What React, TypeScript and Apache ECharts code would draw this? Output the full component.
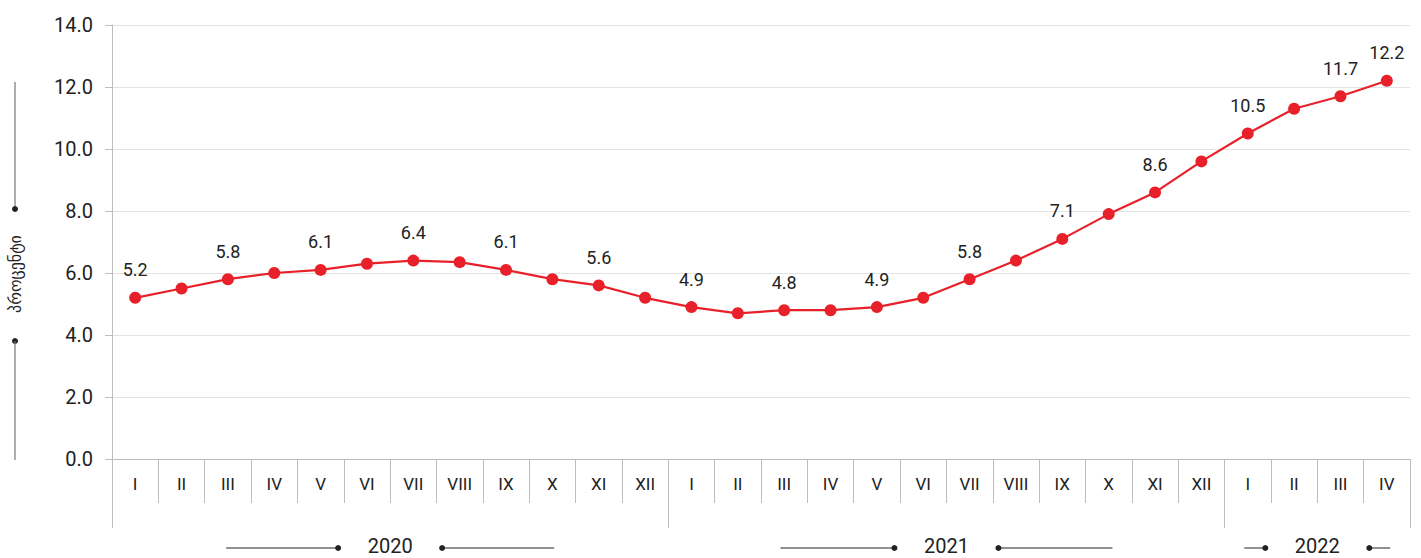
import React, { useEffect, useRef } from "react";
import * as echarts from "echarts";

const months2020 = ["I", "II", "III", "IV", "V", "VI", "VII", "VIII", "IX", "X", "XI", "XII"];
const months2021 = ["I", "II", "III", "IV", "V", "VI", "VII", "VIII", "IX", "X", "XI", "XII"];
const months2022 = ["I", "II", "III", "IV"];

const values2020 = [5.2, 5.5, 5.8, 6.0, 6.1, 6.3, 6.4, 6.35, 6.1, 5.8, 5.6, 5.2];
const values2021 = [4.9, 4.7, 4.8, 4.8, 4.9, 5.2, 5.8, 6.4, 7.1, 7.9, 8.6, 9.6];
const values2022 = [10.5, 11.3, 11.7, 12.2];

const years = ["2020", "2021", "2022"];
const yearMonths = [months2020, months2021, months2022];

const yTicks = [0, 2, 4, 6, 8, 10, 12, 14];
const yTitle = "პროცენტი";

const categories = [...months2020, ...months2021, ...months2022];
const values = [...values2020, ...values2021, ...values2022];

const FONT = "Roboto, 'Noto Sans', sans-serif";
const RED = "#e8202a";
const AXIS_GRAY = "#bdbdbd";
const TEXT = "#222";

export default function App() {
  const ref = useRef<HTMLDivElement>(null);

  useEffect(() => {
    if (!ref.current) return;
    const chart = echarts.init(ref.current, null, { renderer: "svg" });

    const yearStarts: number[] = [];
    let acc = 0;
    yearMonths.forEach((m) => {
      yearStarts.push(acc);
      acc += m.length;
    });
    const last = values.length - 1;

    chart.setOption({
      animation: false,
      grid: { left: 112, right: 11, top: 25, bottom: 99, containLabel: false },
      xAxis: [
        {
          type: "category",
          data: categories,
          position: "bottom",
          boundaryGap: true,
          axisLine: { show: true, lineStyle: { color: AXIS_GRAY, width: 1 } },
          axisTick: { show: true, interval: 0, length: 44, lineStyle: { color: AXIS_GRAY } },
          axisLabel: { interval: 0, margin: 16, fontSize: 17, color: TEXT, fontFamily: FONT },
          splitLine: { show: false },
        },
        {
          type: "category",
          data: categories,
          position: "bottom",
          boundaryGap: true,
          axisLine: { show: false },
          axisTick: {
            show: true,
            length: 69,
            interval: (i: number) => yearStarts.includes(i),
            lineStyle: { color: AXIS_GRAY },
          },
          axisLabel: { show: false },
          splitLine: { show: false },
        },
      ],
      yAxis: {
        type: "value",
        min: yTicks[0],
        max: yTicks[yTicks.length - 1],
        interval: 2,
        axisLine: { show: true, lineStyle: { color: AXIS_GRAY } },
        axisTick: { show: true, length: 7, lineStyle: { color: AXIS_GRAY } },
        axisLabel: {
          formatter: (v: number) => v.toFixed(1),
          fontSize: 20,
          color: TEXT,
          margin: 19,
          fontFamily: FONT,
        },
        splitLine: { show: true, lineStyle: { color: "#e3e3e3", width: 1 } },
      },
      series: [
        {
          type: "line",
          data: values,
          xAxisIndex: 0,
          color: RED,
          lineStyle: { color: RED, width: 2.2 },
          itemStyle: { color: RED },
          symbol: "circle",
          symbolSize: 12,
          label: {
            show: true,
            position: "top",
            distance: 13,
            fontSize: 18,
            color: TEXT,
            fontFamily: FONT,
            formatter: (p: any) =>
              p.dataIndex % 2 === 0 || p.dataIndex === last ? Number(p.value).toFixed(1) : "",
          },
        },
      ],
    });

    // decorations computed from the chart's own scales
    const c0 = chart.convertToPixel({ xAxisIndex: 0 }, 0) as number;
    const c1 = chart.convertToPixel({ xAxisIndex: 0 }, 1) as number;
    const band = c1 - c0;
    const lineLens = [112, 114, 21];
    const yearY = 546;
    const dotGap = 52;
    const graphics: any[] = [];

    years.forEach((yr, k) => {
      const start = yearStarts[k];
      const end = start + yearMonths[k].length - 1;
      const left = (chart.convertToPixel({ xAxisIndex: 0 }, start) as number) - band / 2;
      const right = (chart.convertToPixel({ xAxisIndex: 0 }, end) as number) + band / 2;
      const cx = (left + right) / 2;
      const L = lineLens[k];
      graphics.push(
        {
          type: "text",
          x: cx,
          y: yearY,
          style: { text: yr, fontSize: 20, fill: TEXT, fontFamily: FONT, align: "center", verticalAlign: "middle" },
        },
        { type: "circle", shape: { cx: cx - dotGap, cy: yearY + 2, r: 3 }, style: { fill: TEXT } },
        { type: "circle", shape: { cx: cx + dotGap, cy: yearY + 2, r: 3 }, style: { fill: TEXT } },
        {
          type: "line",
          shape: { x1: cx - dotGap - L, y1: yearY + 2, x2: cx - dotGap, y2: yearY + 2 },
          style: { stroke: TEXT, lineWidth: 1 },
        },
        {
          type: "line",
          shape: { x1: cx + dotGap, y1: yearY + 2, x2: cx + dotGap + L, y2: yearY + 2 },
          style: { stroke: TEXT, lineWidth: 1 },
        }
      );
    });

    // y-axis title with lines and dots
    const tx = 15;
    graphics.push(
      { type: "line", shape: { x1: tx, y1: 82, x2: tx, y2: 209 }, style: { stroke: "#777", lineWidth: 1.2 } },
      { type: "circle", shape: { cx: tx, cy: 209, r: 3 }, style: { fill: TEXT } },
      {
        type: "text",
        x: tx,
        y: 274,
        rotation: Math.PI / 2,
        style: {
          text: yTitle,
          fontSize: 16,
          fill: TEXT,
          fontFamily: "'DejaVu Sans', sans-serif",
          align: "center",
          verticalAlign: "middle",
        },
      },
      { type: "circle", shape: { cx: tx, cy: 341, r: 3 }, style: { fill: TEXT } },
      { type: "line", shape: { x1: tx, y1: 341, x2: tx, y2: 460 }, style: { stroke: "#777", lineWidth: 1.2 } }
    );

    chart.setOption({ graphic: graphics });

    return () => chart.dispose();
  }, []);

  return (
    <div
      ref={ref}
      style={{ position: "absolute", left: 0, top: 0, width: 1421, height: 558, background: "#fff" }}
    />
  );
}
